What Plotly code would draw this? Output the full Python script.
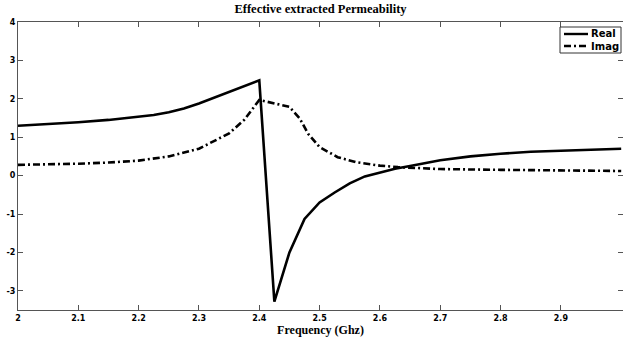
import plotly.graph_objects as go

# Data
real_x = [2.0, 2.05, 2.1, 2.15, 2.2, 2.225, 2.25, 2.275, 2.3, 2.325, 2.35, 2.375, 2.4,
          2.425, 2.45, 2.475, 2.5, 2.525, 2.55, 2.575, 2.6, 2.625, 2.65, 2.7, 2.75,
          2.8, 2.85, 2.9, 2.95, 3.0]
real_y = [1.30, 1.34, 1.39, 1.45, 1.53, 1.58, 1.65, 1.75, 1.88, 2.03, 2.18, 2.33, 2.48,
          -3.28, -2.00, -1.13, -0.70, -0.44, -0.20, -0.02, 0.08, 0.18, 0.25, 0.40, 0.50,
          0.57, 0.62, 0.65, 0.68, 0.70]

imag_x = [2.0, 2.05, 2.1, 2.15, 2.2, 2.25, 2.3, 2.35, 2.375, 2.4, 2.45, 2.467, 2.481,
          2.5, 2.53, 2.56, 2.6, 2.63, 2.7, 2.8, 2.9, 3.0]
imag_y = [0.28, 0.29, 0.31, 0.34, 0.39, 0.50, 0.70, 1.10, 1.45, 1.97, 1.79, 1.49, 1.09,
          0.74, 0.48, 0.35, 0.26, 0.22, 0.17, 0.15, 0.13, 0.12]

x_ticks = [2, 2.1, 2.2, 2.3, 2.4, 2.5, 2.6, 2.7, 2.8, 2.9]
x_labels = ["2", "2.1", "2.2", "2.3", "2.4", "2.5", "2.6", "2.7", "2.8", "2.9"]
y_ticks = [-3, -2, -1, 0, 1, 2, 3, 4]
y_labels = ["-3", "-2", "-1", "0", "1", "2", "3", "4"]

series_names = ["Real", "Imag"]
series_dash = ["solid", "7px,3px,2px,3px"]

fig = go.Figure()
fig.add_trace(go.Scatter(x=real_x, y=real_y, mode="lines", name=series_names[0],
                         line=dict(color="black", width=2.6, dash=series_dash[0])))
fig.add_trace(go.Scatter(x=imag_x, y=imag_y, mode="lines", name=series_names[1],
                         line=dict(color="black", width=2.6, dash=series_dash[1])))

axis_common = dict(showline=True, linecolor="#555555", linewidth=1, mirror="ticks",
                   ticks="inside", ticklen=5, tickcolor="#555555", showgrid=False,
                   zeroline=False,
                   tickfont=dict(family="DejaVu Sans", size=8, color="black", weight="bold"))

# Compact MATLAB-style legend box drawn in paper coordinates
W, H = 623, 345
ml, mr, mt, mb = 18, 0, 22, 35
pw, ph = W - ml - mr, H - mt - mb

def px(xp):
    return (xp - ml) / pw

def py(yp):
    return 1 - (yp - mt) / ph

shapes = [dict(type="rect", xref="paper", yref="paper",
               x0=px(560), x1=px(621), y0=py(53), y1=py(27),
               line=dict(color="#333333", width=1), fillcolor="white", layer="above")]
annotations = []
for i, (nm, ds) in enumerate(zip(series_names, series_dash)):
    yy = 34 + i * 12
    shapes.append(dict(type="line", xref="paper", yref="paper",
                       x0=px(564), x1=px(588), y0=py(yy), y1=py(yy),
                       line=dict(color="black", width=2.4, dash=ds), layer="above"))
    annotations.append(dict(text=nm, xref="paper", yref="paper", x=px(589), y=py(yy),
                            xanchor="left", yanchor="middle", showarrow=False,
                            font=dict(family="DejaVu Sans", size=10, color="black",
                                      weight="bold")))

fig.update_layout(
    width=W, height=H,
    margin=dict(l=ml, r=mr, t=mt, b=mb),
    paper_bgcolor="white", plot_bgcolor="white",
    showlegend=False,
    title=dict(text="Effective extracted Permeability", x=0.5, xref="paper", xanchor="center",
               y=0.975, yanchor="middle",
               font=dict(family="Liberation Serif", size=12.5, color="black", weight="bold")),
    xaxis=dict(range=[2, 3.003], tickvals=x_ticks, ticktext=x_labels,
               title=dict(text="Frequency (Ghz)", standoff=2,
                          font=dict(family="Liberation Serif", size=12, color="black", weight="bold")),
               **axis_common),
    yaxis=dict(range=[-3.5, 4], tickvals=y_ticks, ticktext=y_labels, **axis_common),
    shapes=shapes,
    annotations=annotations,
)

fig.write_html("out.html")
